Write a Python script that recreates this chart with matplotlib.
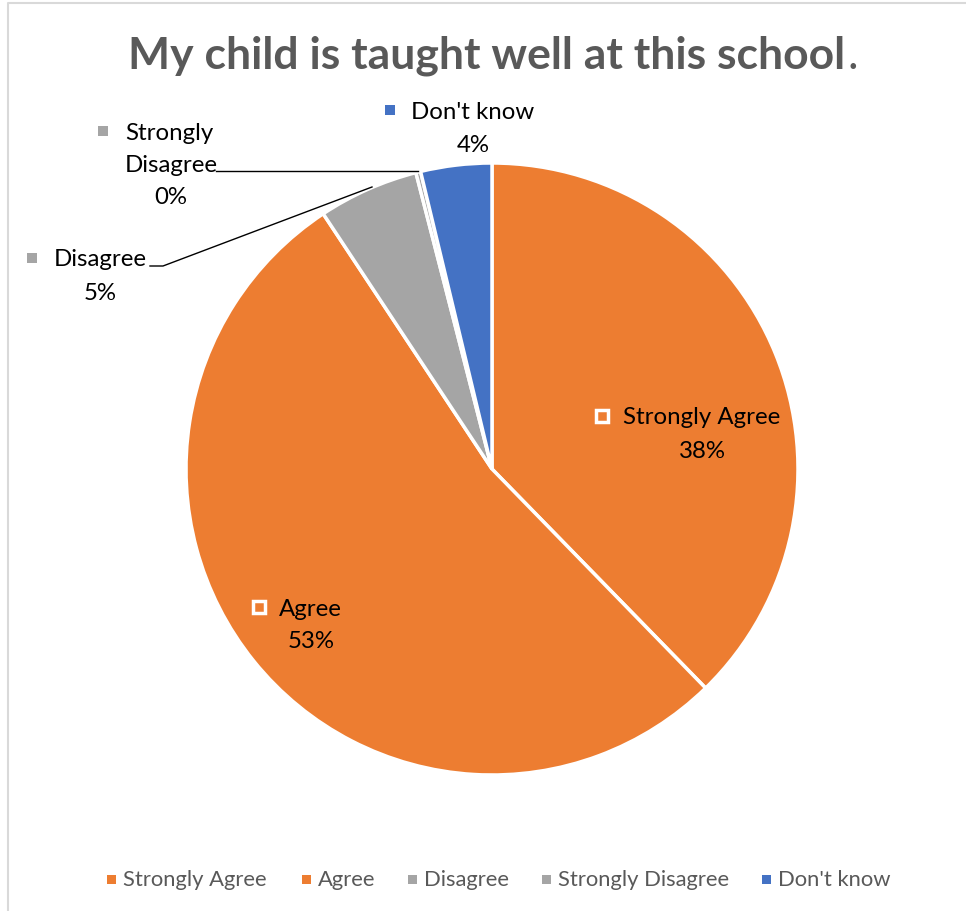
import matplotlib.pyplot as plt
from matplotlib.patches import Rectangle

# survey answers, percent of responses
categories = ["Strongly Agree", "Agree", "Disagree", "Strongly Disagree", "Don't know"]
percents = [37.7, 53.0, 5.3, 0.25, 3.75]
colors = ["#ED7D31", "#ED7D31", "#A5A5A5", "#A5A5A5", "#4472C4"]
title = "My child is taught well at this school"

W, H = 966, 912
plt.rcParams['font.family'] = ['Lato', 'DejaVu Sans']


def Y(y):
    # pixel row from top -> data y
    return H - y


fig = plt.figure(figsize=(W / 100, H / 100), dpi=100)
ax = fig.add_axes([0, 0, 1, 1])

wedges, _ = ax.pie(percents, colors=colors, startangle=90, counterclock=False,
                   center=(492, Y(470)), radius=306,
                   wedgeprops=dict(edgecolor='white', linewidth=2.5))
ax.set_xlim(0, W)
ax.set_ylim(0, H)
ax.set_aspect('equal')
ax.axis('off')

# chart border (left and top only visible)
ax.plot([8, 8, W + 5], [Y(H + 5), Y(4), Y(4)], color='#D9D9D9', lw=1.5, clip_on=False)

# title, bold text with a plain full stop
ax.text(845, Y(56), title, ha='right', va='center', fontsize=32, fontweight='bold', color='#595959')
ax.text(847, Y(56), ".", ha='left', va='center', fontsize=32, color='#595959')

lbl_fs = 17.3
# data labels: (marker x, marker y, text x, name y, pct x, pct y, marker style)
label_pos = {
    "Strongly Agree": (602, 417, 623, 418, 702, 451, 'in'),
    "Agree": (259, 608, 279, 610, 311, 641, 'in'),
    "Disagree": (32, 259, 54, 260, 100, 293, 'out'),
    "Strongly Disagree": (103, 132, 125, 133, 171, 198, 'out'),
    "Don't know": (390, 111, 411, 112, 473, 145, 'out'),
}
for name, val, col in zip(categories, percents, colors):
    mx, my, tx, ty, px, py, kind = label_pos[name]
    if name == "Strongly Disagree":
        ax.text(tx, Y(ty), "Strongly", ha='left', va='center', fontsize=lbl_fs, color='black')
        ax.text(tx, Y(ty + 32), "Disagree", ha='left', va='center', fontsize=lbl_fs, color='black')
    else:
        ax.text(tx, Y(ty), name, ha='left', va='center', fontsize=lbl_fs, color='black')
    ax.text(px, Y(py), f"{round(val)}%", ha='center', va='center', fontsize=lbl_fs, color='black')
    if kind == 'in':
        ax.add_patch(Rectangle((mx - 6, Y(my) - 6), 12, 12, facecolor=col, edgecolor='white', lw=2.5))
    else:
        ax.add_patch(Rectangle((mx - 5, Y(my) - 5), 10, 10, facecolor=col, edgecolor='none'))

# leader lines
ax.plot([216, 418], [Y(172), Y(172)], color='black', lw=1)
ax.plot([150, 163, 372], [Y(267), Y(267), Y(188)], color='black', lw=1)

# legend along the bottom
leg_x = [111, 306, 412, 546, 766]
for x, name, col in zip(leg_x, categories, colors):
    ax.add_patch(Rectangle((x - 4.5, Y(880) - 4.5), 9, 9, facecolor=col, edgecolor='none'))
    ax.text(x + 12, Y(880), name, ha='left', va='center', fontsize=15.8, color='#595959')

fig.savefig('out.png', dpi=100)
